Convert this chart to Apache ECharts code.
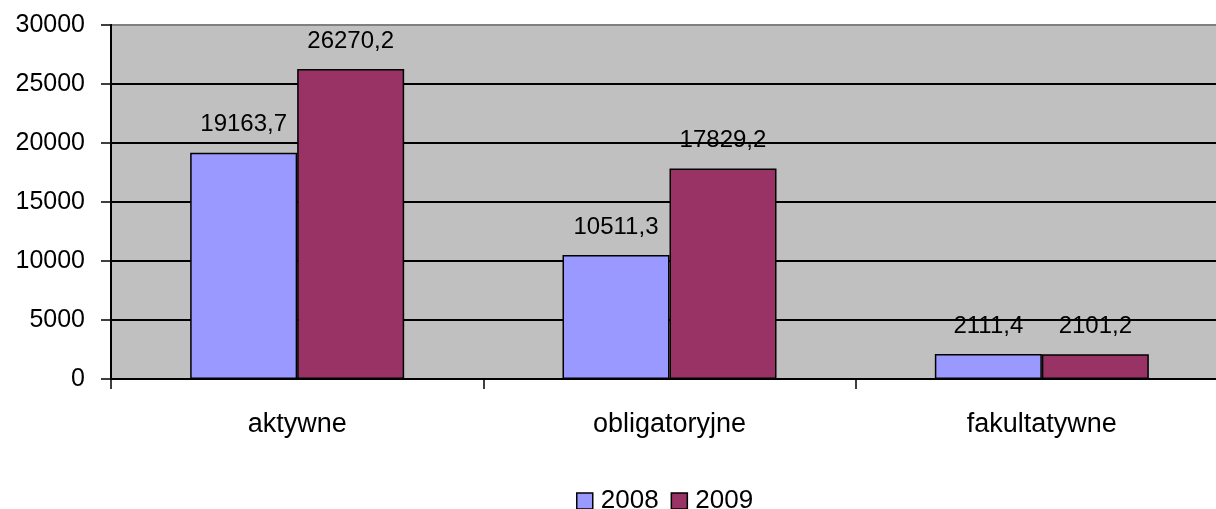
<!DOCTYPE html>
<html><head><meta charset="utf-8">
<script src="https://cdn.jsdelivr.net/npm/echarts@6/dist/echarts.min.js"></script>
<style>html,body{margin:0;padding:0;background:#fff;overflow:hidden}#c{width:1216px;height:509px}</style>
</head><body><div id="c"></div>
<script>
const categories = ['aktywne', 'obligatoryjne', 'fakultatywne'];
const values2008 = [19163.7, 10511.3, 2111.4];
const values2009 = [26270.2, 17829.2, 2101.2];
const seriesNames = ['2008', '2009'];

const font = 'Liberation Sans, Arial, sans-serif';
const fmt = p => String(p.value).replace('.', ',');
const chart = echarts.init(document.getElementById('c'));
chart.setOption({
  animation: false,
  backgroundColor: '#fff',
  textStyle: { fontFamily: font },
  grid: { left: 111, width: 1117, top: 25, height: 354, containLabel: false, outerBoundsMode: 'none',
          show: true, backgroundColor: '#c0c0c0', borderWidth: 0 },
  legend: {
    top: 483, left: 571, itemWidth: 16, itemHeight: 16, itemGap: 12,
    icon: 'rect',
    textStyle: { fontSize: 26, color: '#000', fontFamily: font, padding: [0,0,0,3] },
    data: seriesNames.map(n => ({ name: n, itemStyle: { borderColor: '#000', borderWidth: 1.5 } }))
  },
  xAxis: {
    type: 'category', data: categories,
    axisLine: { lineStyle: { color: '#000', width: 2 } },
    axisTick: { show: true, length: 10, lineStyle: { color: '#000', width: 1.5 } },
    axisLabel: { color: '#000', fontSize: 27, margin: 32, fontFamily: font },
    splitLine: { show: false }
  },
  yAxis: {
    type: 'value', min: 0, max: 30000, interval: 5000,
    axisLine: { show: true, lineStyle: { color: '#000', width: 2 } },
    axisTick: { show: true, length: 10, lineStyle: { color: '#000', width: 1.5 } },
    axisLabel: { color: '#000', fontSize: 25, margin: 26, fontFamily: font, formatter: v => String(v) },
    splitLine: { show: true, lineStyle: { color: '#000', width: 1.8 } }
  },
  series: [
    { name: seriesNames[0], type: 'bar', data: values2008, barWidth: 107, barGap: '0%',
      itemStyle: { color: '#9999ff', borderColor: '#000', borderWidth: 1.5 },
      label: { show: true, position: 'top', distance: 16, color: '#000', fontSize: 24, fontFamily: font, formatter: fmt } },
    { name: seriesNames[1], type: 'bar', data: values2009, barWidth: 107, barGap: '0%',
      itemStyle: { color: '#993366', borderColor: '#000', borderWidth: 1.5 },
      label: { show: true, position: 'top', distance: 16, color: '#000', fontSize: 24, fontFamily: font, formatter: fmt } }
  ],
  graphic: [{ type: 'line', z: 100, shape: { x1: 112, y1: 25, x2: 1216, y2: 25 }, style: { stroke: '#808080', lineWidth: 2 }, silent: true }]
});
</script></body></html>
